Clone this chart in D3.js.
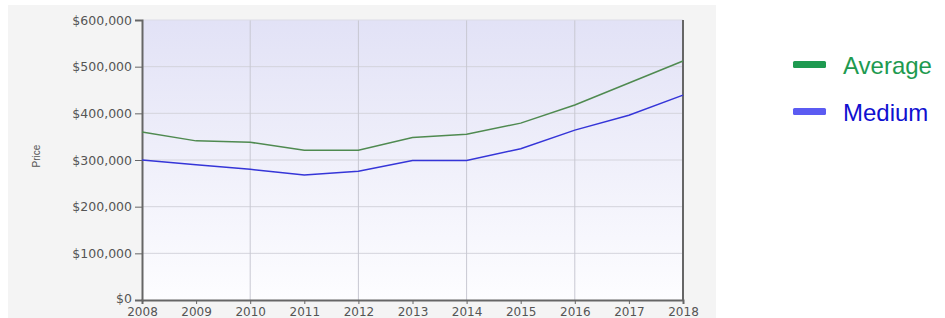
<!DOCTYPE html>
<html>
<head>
<meta charset="utf-8">
<script src="https://cdn.jsdelivr.net/npm/d3@7"></script>
<style>
  body { margin: 0; background: #fff; }
  svg { display: block; }
</style>
</head>
<body>
<div id="chart"></div>
<script>
// chart data
var years = [2008, 2009, 2010, 2011, 2012, 2013, 2014, 2015, 2016, 2017, 2018];
var averagePrice = [360000, 341000, 338000, 321000, 321000, 348000, 355000, 379000, 418000, 465000, 512000];
var mediumPrice = [300000, 290000, 280000, 268000, 276000, 299000, 299000, 324000, 364000, 396000, 439000];
var seriesNames = ["Average", "Medium"];
var yTicks = [0, 100000, 200000, 300000, 400000, 500000, 600000];

var svgWidth = 945;
var svgHeight = 318;
var margin = { top: 20, left: 142 };
var width = 541;
var height = 280;

var svg = d3.select("#chart")
  .append("svg")
  .attr("width", svgWidth)
  .attr("height", svgHeight);

var defs = svg.append("defs");
var bg = defs.append("linearGradient")
  .attr("id", "plotBg")
  .attr("x1", 0).attr("y1", 0).attr("x2", 0).attr("y2", 1);
bg.append("stop").attr("offset", "0%").attr("stop-color", "#e2e2f6");
bg.append("stop").attr("offset", "100%").attr("stop-color", "#fdfdff");

// outer panel
svg.append("rect")
  .attr("x", 8).attr("y", 5)
  .attr("width", 708).attr("height", 313)
  .attr("fill", "#f4f4f4");

var chartGroup = svg.append("g")
  .attr("transform", `translate(${margin.left}, ${margin.top})`);

var xScale = d3.scaleLinear()
  .domain([2008, 2018])
  .range([0, width]);

var yScale = d3.scaleLinear()
  .domain([0, 600000])
  .range([height, 0]);

chartGroup.append("rect")
  .attr("width", width).attr("height", height)
  .attr("fill", "url(#plotBg)");

// gridlines
chartGroup.append("g")
  .selectAll("line")
  .data(yTicks.slice(1, -1))
  .enter()
  .append("line")
  .attr("x1", 0).attr("x2", width)
  .attr("y1", d => yScale(d)).attr("y2", d => yScale(d))
  .attr("stroke", "#d4d4dc").attr("stroke-width", 1);

chartGroup.append("g")
  .selectAll("line")
  .data([2010, 2012, 2014, 2016])
  .enter()
  .append("line")
  .attr("y1", 0).attr("y2", height)
  .attr("x1", d => xScale(d)).attr("x2", d => xScale(d))
  .attr("stroke", "#c8c8d2").attr("stroke-width", 1);

// top border
chartGroup.append("line")
  .attr("x1", 0).attr("x2", width).attr("y1", 0).attr("y2", 0)
  .attr("stroke", "#dcdce6");

// axes
var fmt = d => "$" + d3.format(",")(d);
var leftAxis = d3.axisLeft(yScale).tickValues(yTicks).tickFormat(fmt).tickSize(7).tickPadding(3);
var bottomAxis = d3.axisBottom(xScale).tickValues(years).tickFormat(d3.format("d")).tickSize(4).tickPadding(3);

var yAxisG = chartGroup.append("g").call(leftAxis);
var xAxisG = chartGroup.append("g")
  .attr("transform", `translate(0, ${height})`)
  .call(bottomAxis);

[yAxisG, xAxisG].forEach(function (g) {
  g.select(".domain").attr("stroke", "#666").attr("stroke-width", 2);
  g.selectAll(".tick line").attr("stroke", "#666");
  g.selectAll("text")
    .attr("fill", "#555")
    .style("font-family", "DejaVu Sans, Verdana, sans-serif");
});
yAxisG.selectAll("text").style("font-size", "12.5px");
yAxisG.selectAll(".tick").filter(d => d === 0).select("text").attr("dy", "0.2em");
xAxisG.selectAll("text").style("font-size", "12px");

// right border
chartGroup.append("line")
  .attr("x1", width).attr("x2", width).attr("y1", 0).attr("y2", height)
  .attr("stroke", "#666").attr("stroke-width", 2);

// lines
var line = d3.line()
  .x((d, i) => xScale(years[i]))
  .y(d => yScale(d));

chartGroup.append("path")
  .datum(averagePrice)
  .attr("d", line)
  .attr("fill", "none")
  .attr("stroke", "#4f8a50")
  .attr("stroke-width", 1.5);

chartGroup.append("path")
  .datum(mediumPrice)
  .attr("d", line)
  .attr("fill", "none")
  .attr("stroke", "#3535d8")
  .attr("stroke-width", 1.5);

// y axis title
chartGroup.append("text")
  .attr("transform", "rotate(-90)")
  .attr("x", 0 - (height * 0.5) + 4)
  .attr("y", 0 - margin.left + 40)
  .attr("text-anchor", "middle")
  .attr("fill", "#555")
  .style("font-family", "Liberation Sans Narrow, Liberation Sans, sans-serif")
  .style("font-size", "10px")
  .text("Price");

// legend
var legendColors = ["#1e9a50", "#5b5bf2"];
var legendText = ["#1e9a50", "#1010d0"];
var legend = svg.append("g")
  .attr("transform", "translate(793, 0)")
  .selectAll("g")
  .data(seriesNames)
  .enter()
  .append("g")
  .attr("transform", (d, i) => `translate(0, ${65 + i * 47})`);

legend.append("rect")
  .attr("x", 0).attr("y", -4)
  .attr("width", 33).attr("height", 7)
  .attr("rx", 1.5)
  .attr("fill", (d, i) => legendColors[i]);

legend.append("text")
  .attr("x", 50).attr("y", 9)
  .attr("fill", (d, i) => legendText[i])
  .style("font-family", "Liberation Sans, Arial, sans-serif")
  .style("font-size", "24px")
  .text(d => d);
</script>
</body>
</html>
